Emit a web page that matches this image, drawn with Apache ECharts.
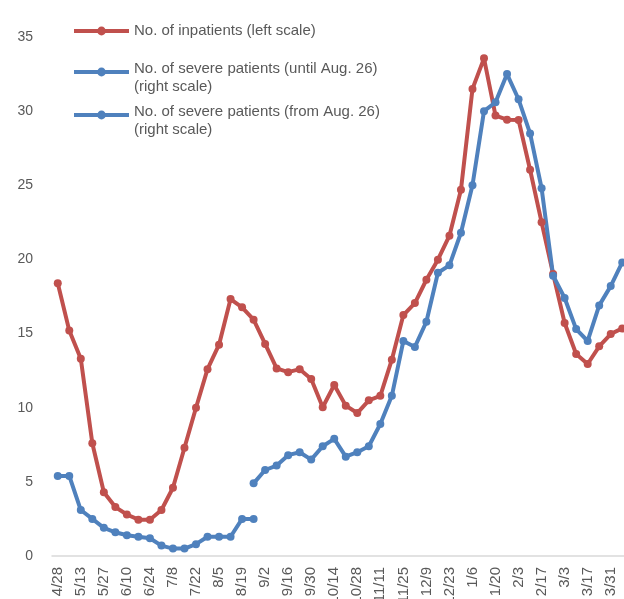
<!DOCTYPE html>
<html>
<head>
<meta charset="utf-8">
<script src="https://cdn.jsdelivr.net/npm/echarts@6/dist/echarts.min.js"></script>
<style>
  html, body { margin: 0; padding: 0; background: #fff; }
  #chart { width: 624px; height: 599px; }
</style>
</head>
<body>
<div id="chart"></div>
<script>
// weekly dates, every other one is labelled
var weeks = ['4/28', '5/6', '5/13', '5/20', '5/27', '6/3', '6/10', '6/17', '6/24', '7/1',
    '7/8', '7/15', '7/22', '7/29', '8/5', '8/12', '8/19', '8/26', '9/2', '9/9',
    '9/16', '9/23', '9/30', '10/7', '10/14', '10/21', '10/28', '11/4', '11/11', '11/18',
    '11/25', '12/2', '12/9', '12/16', '12/23', '12/30', '1/6', '1/13', '1/20', '1/27',
    '2/3', '2/10', '2/17', '2/24', '3/3', '3/10', '3/17', '3/24', '3/31', '4/7'];

// inpatients, left scale
var inpatients = [18.4, 15.2, 13.3, 7.6, 4.3, 3.3, 2.8, 2.45, 2.45, 3.1,
    4.6, 7.3, 10.0, 12.6, 14.25, 17.33, 16.77, 15.94, 14.3, 12.65,
    12.4, 12.6, 11.94, 10.03, 11.53, 10.14, 9.64, 10.5, 10.8, 13.24,
    16.25, 17.06, 18.63, 19.98, 21.6, 24.7, 31.5, 33.56, 29.7, 29.42,
    29.4, 26.05, 22.5, 19.02, 15.71, 13.62, 12.95, 14.14, 14.97, 15.35];

// severe patients, right scale (axis not shown in the crop)
var severeOld = [54, 54, 31, 25, 19, 16, 14, 13, 12, 7,
    5, 5, 8, 13, 13, 13, 25, 25];

var severeNew = [null, null, null, null, null, null, null, null, null, null,
    null, null, null, null, null, null, null, 49, 58, 61,
    68, 70, 65, 74, 79, 67, 70, 74, 89, 108,
    145, 141, 158, 191, 196, 218, 250, 300, 306, 325,
    308, 285, 248, 189, 174, 153, 145, 169, 182, 198];

var leftTicks = [0, 5, 10, 15, 20, 25, 30, 35];

var nameIn = 'No. of inpatients (left scale)';
var nameOld = 'No. of severe patients (until Aug. 26)\n(right scale)';
var nameNew = 'No. of severe patients (from Aug. 26)\n(right scale)';

var red = '#C0504D';
var blue = '#4F81BD';
var grey = '#595959';
var font = 'Liberation Sans, Arial, sans-serif';

var myChart = echarts.init(document.getElementById('chart'));

function legendBox(name, top) {
    return {
        data: [name],
        left: 72,
        top: top,
        padding: 0,
        itemWidth: 55,
        itemHeight: 11,
        selectedMode: false,
        lineStyle: { width: 4 },
        // two-line names: small spacer line on top so the icon sits by the first line
        formatter: function (n) {
            return n.indexOf('\n') > 0 ? '{s| }\n' + n : n;
        },
        textStyle: {
            color: grey, fontSize: 15, fontFamily: font, lineHeight: 18,
            rich: { s: { fontSize: 6, lineHeight: 12 } }
        }
    };
}

function lineSeries(name, axis, values, color) {
    return {
        name: name,
        type: 'line',
        yAxisIndex: axis,
        data: values,
        symbol: 'circle',
        symbolSize: 8,
        showAllSymbol: true,
        lineStyle: { color: color, width: 4 },
        itemStyle: { color: color }
    };
}

var option = {
    animation: false,
    textStyle: { fontFamily: font },
    legend: [
        legendBox(nameIn, 22),
        legendBox(nameOld, 48),
        legendBox(nameNew, 91)
    ],
    grid: {
        left: 52,
        top: 37,
        width: 576,
        height: 519,
        outerBoundsMode: 'none'
    },
    xAxis: {
        type: 'category',
        data: weeks,
        boundaryGap: true,
        axisLine: { lineStyle: { color: '#d9d9d9', width: 1.5 } },
        axisTick: { show: false },
        axisLabel: {
            interval: 1,
            rotate: 90,
            margin: 11,
            color: grey,
            fontSize: 15,
            fontFamily: font
        }
    },
    yAxis: [{
        type: 'value',
        min: leftTicks[0],
        max: leftTicks[leftTicks.length - 1],
        interval: 5,
        axisLine: { show: false },
        axisTick: { show: false },
        splitLine: { show: false },
        axisLabel: { margin: 19, color: grey, fontSize: 14, fontFamily: font }
    }, {
        type: 'value',
        show: false,
        min: 0,
        max: 350,
        interval: 50,
        splitLine: { show: false }
    }],
    series: [
        lineSeries(nameIn, 0, inpatients, red),
        lineSeries(nameOld, 1, severeOld, blue),
        lineSeries(nameNew, 1, severeNew, blue)
    ]
};

myChart.setOption(option);
</script>
</body>
</html>
